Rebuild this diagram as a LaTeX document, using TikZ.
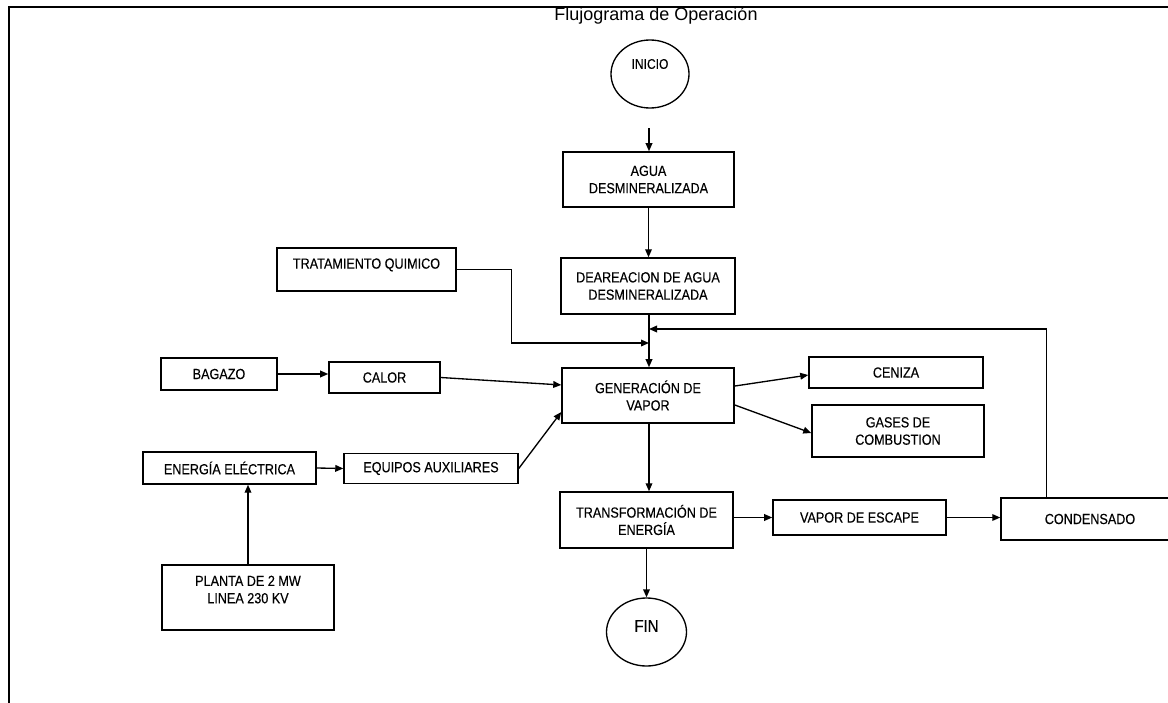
\documentclass[tikz,border=0pt]{standalone}
\usepackage{fontspec}
\setmainfont{Liberation Sans}[FakeStretch=0.86, FakeBold=0.3]
\newfontfamily\titulofont{Liberation Sans}
\usetikzlibrary{arrows.meta, shapes.geometric}
\tikzset{%
	caja/.style={
		rectangle,
		draw,
		line width=1.1pt,
		align=center,
		inner sep=0pt,
		font=\fontsize{11}{13}\selectfont
	},
	terminal/.style={
		ellipse,
		draw,
		line width=1pt,
		inner sep=0pt
	},
	flecha/.style={
		-{Triangle[length=6pt,width=5pt]},
		line width=1pt
	},
}

\begin{document}
\begin{tikzpicture}[x=0.75pt, y=-0.75pt]
	\useasboundingbox (0,0) rectangle (1168,703);
	% marco y titulo
	\draw[line width=2pt] (9,703) -- (9,7) -- (1168,7);
	\node[font=\titulofont\fontsize{13.5}{16}\selectfont] (titulo) at (656,16) {Flujograma de Operación};
	
	% columna central
	\node[terminal, minimum width=58.5pt, minimum height=51pt,
		label={[yshift=7.5pt, font=\fontsize{10.5}{12}\selectfont]center:INICIO}] (inicio) at (650,74) {};
	\coordinate (entrada) at (649,128);
	\node[caja, minimum width=128.3pt, minimum height=41.3pt] (agua) at (648.5,179.5) {AGUA\\DESMINERALIZADA};
	\node[caja, minimum width=130.5pt, minimum height=42pt] (deareacion) at (648,286) {DEAREACION DE AGUA\\DESMINERALIZADA};
	\node[caja, minimum width=129pt, minimum height=41.3pt] (generacion) at (648,395.5) {GENERACIÓN DE\\VAPOR};
	\node[caja, minimum width=129.8pt, minimum height=42pt] (transformacion) at (646.5,520) {TRANSFORMACIÓN DE\\ENERGÍA};
	\node[terminal, minimum width=60pt, minimum height=51pt,
		label={[yshift=4.5pt, font=\fontsize{13}{15}\selectfont]center:FIN}] (fin) at (646.5,632) {};
	\coordinate (retorno) at (649,329);
	\coordinate (quimico) at (649,343);
	
	% entradas de la izquierda
	\node[caja, minimum width=134.3pt, minimum height=32.3pt, text depth=9pt] (tratamiento) at (366.5,269.5) {TRATAMIENTO QUIMICO};
	\node[caja, minimum width=87pt, minimum height=24pt] (bagazo) at (219,374) {BAGAZO};
	\node[caja, minimum width=83.3pt, minimum height=23.3pt] (calor) at (384.5,377.5) {CALOR};
	\node[caja, minimum width=129.8pt, minimum height=24pt] (energia) at (229.5,468) {ENERGÍA ELÉCTRICA};
	\node[caja, minimum width=130.5pt, minimum height=22.5pt] (equipos) at (431,468.5) {EQUIPOS AUXILIARES};
	\node[caja, minimum width=129pt, minimum height=48.8pt, text depth=12pt] (planta) at (248,597.5) {PLANTA DE 2 MW\\LINEA 230 KV};
	
	% salidas de la derecha
	\node[caja, minimum width=130.5pt, minimum height=23.3pt] (ceniza) at (896,372.5) {CENIZA};
	\node[caja, minimum width=129pt, minimum height=39pt] (gases) at (898,431) {GASES DE\\COMBUSTION};
	\node[caja, minimum width=129.8pt, minimum height=26.3pt] (vapor) at (859.5,517.5) {VAPOR DE ESCAPE};
	\node[caja, minimum width=133.5pt, minimum height=31.5pt] (condensado) at (1090,519) {CONDENSADO};
	
	% flechas
	\draw[flecha] (entrada) -- (entrada |- agua.north);
	\draw[flecha] (agua.south) -- (agua.south |- deareacion.north);
	\draw[flecha] (deareacion.south -| quimico) -- (quimico |- generacion.north);
	\draw[flecha] (tratamiento.east) -- ++(55,0) |- (quimico);
	\draw[flecha] ([xshift=34.5pt]condensado.north west) |- (retorno);
	\draw[flecha] (bagazo.east) -- (calor.west |- bagazo.east);
	\draw[flecha] (calor.east) -- ([yshift=7.9pt]generacion.west);
	\draw[flecha] (energia.east) -- (equipos.west);
	\draw[flecha] (equipos.east) -- ([yshift=-12.4pt]generacion.west);
	\draw[flecha] (planta.north) -- (planta.north |- energia.south);
	\draw[flecha] ([yshift=7.1pt]generacion.east) -- ([yshift=-1.9pt]ceniza.west);
	\draw[flecha] ([yshift=-7.1pt]generacion.east) -- ([yshift=-1.5pt]gases.west);
	\draw[flecha] (generacion.south -| quimico) -- (quimico |- transformacion.north);
	\draw[flecha] (transformacion.east |- vapor.west) -- (vapor.west);
	\draw[flecha] (vapor.east) -- (vapor.east -| condensado.west);
	\draw[flecha] (transformacion.south) -- (fin.north);
\end{tikzpicture}
\end{document}
